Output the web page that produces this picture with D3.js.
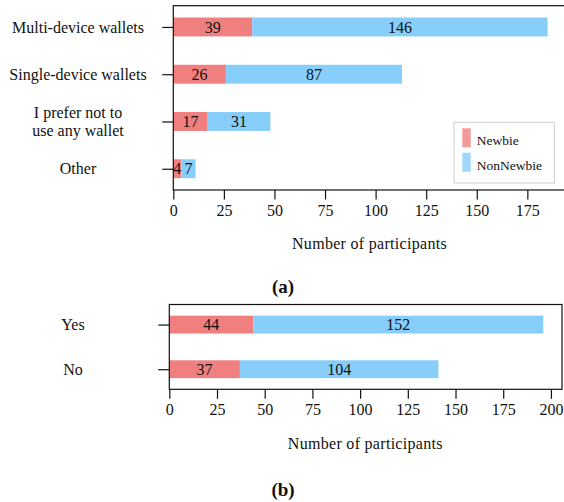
<!DOCTYPE html>
<html>
<head>
<meta charset="utf-8">
<script src="https://cdn.jsdelivr.net/npm/d3@7"></script>
<style>
  html, body { margin: 0; padding: 0; background: #fff; }
  svg { display: block; }
  svg text { font-family: "Liberation Serif", "Times New Roman", Times, "DejaVu Serif", serif !important; fill: #111; }
</style>
</head>
<body>
<svg id="chart" width="564" height="502"></svg>
<script>
// Panel (a): which wallet type participants use
const walletCategories = ["Multi-device wallets", "Single-device wallets", "I prefer not to\nuse any wallet", "Other"];
const walletNewbie = [39, 26, 17, 4];
const walletNonNewbie = [146, 87, 31, 7];

// Panel (b): yes / no question
const answerCategories = ["Yes", "No"];
const answerNewbie = [44, 37];
const answerNonNewbie = [152, 104];

const seriesNames = ["Newbie", "NonNewbie"];
const seriesColors = ["#F08080", "#87CEFA"];
const ticksA = [0, 25, 50, 75, 100, 125, 150, 175];
const ticksB = [0, 25, 50, 75, 100, 125, 150, 175, 200];
const axisTitle = "Number of participants";

const FS = 16;
const svg = d3.select("#chart");

function drawPanel(cfg) {
  const g = svg.append("g");
  const maxTotal = d3.max(cfg.newbie.map((v, i) => v + cfg.nonNewbie[i]));
  const x = d3.scaleLinear().domain([0, maxTotal * 1.05]).range([cfg.left, cfg.right]);
  const y = d3.scalePoint().domain(cfg.categories).range([cfg.top, cfg.bottom]).padding(0.45);
  const barH = y.step() * 0.4;

  const rows = cfg.categories.map((c, i) => ({ c, a: cfg.newbie[i], b: cfg.nonNewbie[i] }));

  // stacked bars
  const segs = [];
  rows.forEach(r => {
    segs.push({ c: r.c, x0: 0, x1: r.a, v: r.a, k: 0 });
    segs.push({ c: r.c, x0: r.a, x1: r.a + r.b, v: r.b, k: 1 });
  });
  g.selectAll("rect.bar").data(segs).join("rect")
    .attr("class", "bar")
    .attr("x", d => x(d.x0))
    .attr("width", d => x(d.x1) - x(d.x0))
    .attr("y", d => y(d.c) - barH / 2)
    .attr("height", barH)
    .attr("fill", d => seriesColors[d.k]);

  g.selectAll("text.val").data(segs).join("text")
    .attr("class", "val")
    .attr("x", d => (x(d.x0) + x(d.x1)) / 2)
    .attr("y", d => y(d.c))
    .attr("dy", "0.35em")
    .attr("text-anchor", "middle")
    .attr("font-size", FS)
    .text(d => d.v);

  // frame
  g.append("rect")
    .attr("x", cfg.left).attr("y", cfg.top)
    .attr("width", cfg.right - cfg.left).attr("height", cfg.bottom - cfg.top)
    .attr("fill", "none").attr("stroke", "#111").attr("stroke-width", 1.2);

  // x axis
  const xAxis = d3.axisBottom(x).tickValues(cfg.ticks).tickSize(9.5).tickPadding(5).tickSizeOuter(0);
  const ax = g.append("g").attr("transform", `translate(0,${cfg.bottom})`).call(xAxis);
  ax.attr("font-family", null);
  ax.select(".domain").remove();
  ax.selectAll(".tick line").attr("stroke", "#111").attr("stroke-width", 1.2);
  ax.selectAll(".tick text").attr("font-size", FS).attr("fill", "#111");

  // y axis ticks (labels drawn separately, centered)
  const yAxis = d3.axisLeft(y).tickSize(11).tickFormat("");
  const ay = g.append("g").attr("transform", `translate(${cfg.left},0)`).call(yAxis);
  ay.select(".domain").remove();
  ay.selectAll(".tick line").attr("stroke", "#111").attr("stroke-width", 1.2);

  cfg.categories.forEach(c => {
    const lines = c.split("\n");
    const lh = 17.5;
    const t = g.append("text")
      .attr("text-anchor", "middle")
      .attr("font-size", FS)
      .attr("x", cfg.labelX)
      .attr("y", y(c) - (lines.length - 1) * lh / 2);
    lines.forEach((ln, j) => {
      t.append("tspan").attr("x", cfg.labelX).attr("dy", j === 0 ? "0.35em" : lh).text(ln);
    });
  });

  g.append("text")
    .attr("x", cfg.titleX).attr("y", cfg.titleY)
    .attr("dy", "0.35em")
    .attr("text-anchor", "middle")
    .attr("font-size", FS)
    .attr("letter-spacing", 0.3)
    .text(axisTitle);

  g.append("text")
    .attr("x", 283).attr("y", cfg.panelY)
    .attr("dy", "0.35em")
    .attr("text-anchor", "middle")
    .attr("font-size", 19)
    .attr("font-weight", "bold")
    .text(cfg.panel);

  return { x, y };
}

drawPanel({
  categories: walletCategories, newbie: walletNewbie, nonNewbie: walletNonNewbie,
  left: 173.3, right: 566.3, top: 5.7, bottom: 190, ticks: ticksA,
  labelX: 78, titleX: 369.5, titleY: 243, panel: "(a)", panelY: 286
});

drawPanel({
  categories: answerCategories, newbie: answerNewbie, nonNewbie: answerNonNewbie,
  left: 169.3, right: 562, top: 304.5, bottom: 389.3, ticks: ticksB,
  labelX: 73, titleX: 365.3, titleY: 443, panel: "(b)", panelY: 489
});

// legend for panel (a)
const leg = svg.append("g").attr("transform", "translate(454,122.3)");
leg.append("rect").attr("width", 100.3).attr("height", 60.7)
  .attr("fill", "#fff").attr("fill-opacity", 0.85)
  .attr("stroke", "#cccccc").attr("stroke-width", 1);
seriesNames.forEach((n, i) => {
  leg.append("rect")
    .attr("x", 8.3).attr("y", 6 + i * 24.4)
    .attr("width", 8.4).attr("height", 19)
    .attr("fill", seriesColors[i]).attr("fill-opacity", 0.8);
  leg.append("text")
    .attr("x", 22.7).attr("y", 18.4 + i * 24.4)
    .attr("dy", "0.35em")
    .attr("font-size", 13.5)
    .text(n);
});
</script>
</body>
</html>
